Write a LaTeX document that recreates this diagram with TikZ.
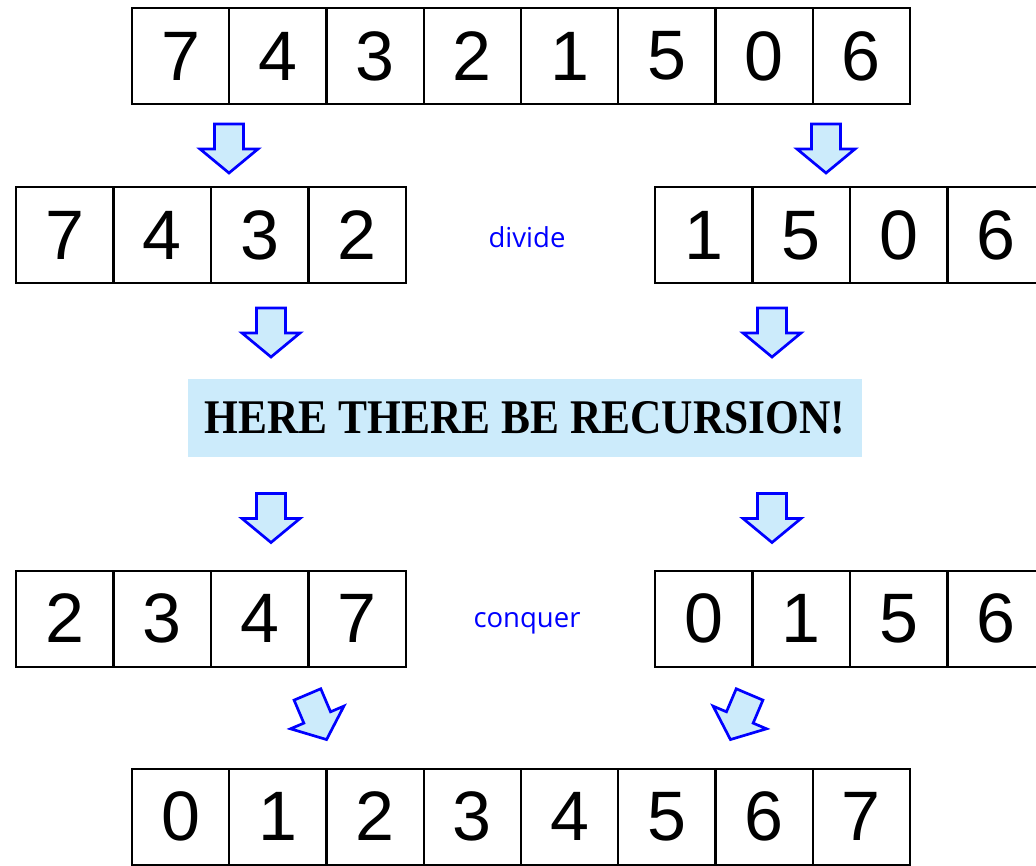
\documentclass[tikz,border=0pt]{standalone}
\usepackage{fontspec}
\usepackage{graphicx}
\setmainfont{Liberation Sans}
\newfontfamily\lblfont{Open Sans}
\newfontfamily\banfont{Liberation Serif}
\definecolor{arrowfill}{HTML}{CCEBFB}
\definecolor{bannerbg}{HTML}{CCEBFB}
\definecolor{lblblue}{HTML}{0000FF}
\tikzset{
  cell/.style={draw=black, line width=2pt, minimum width=97.4pt, minimum height=96pt,
    inner sep=0pt, outer sep=0pt, font=\fontsize{70}{70}\selectfont},
  lbl/.style={text=lblblue, font=\lblfont\fontsize{27.5}{27.5}\selectfont, inner sep=0pt},
  fatarrow/.style={draw=blue, fill=arrowfill, line width=2.7pt, line join=miter},
  pics/downarrow/.style={code={
    \path[fatarrow] (-14.5,-24.5) -- (14.5,-24.5) -- (14.5,0.5) -- (29,0.5) -- (0,24.5)
      -- (-29,0.5) -- (-14.5,0.5) -- cycle;
  }}
}
\begin{document}
\begin{tikzpicture}[x=1pt, y=-1pt]
\useasboundingbox (0,0) rectangle (1036,866);
% top row
\foreach \v [count=\i from 0] in {7,4,3,2,1,5,0,6}
  \node[cell] (top\i) at ({132+97.25*(\i+0.5)},56) {\v};
% divide rows
\foreach \v [count=\i from 0] in {7,4,3,2}
  \node[cell] (dl\i) at ({16+97.5*(\i+0.5)},235.5) {\v};
\foreach \v [count=\i from 0] in {1,5,0,6}
  \node[cell] (dr\i) at ({655+97.5*(\i+0.5)},235.5) {\v};
\node[lbl] (divide) at (527,237) {divide};
% banner
\node[fill=bannerbg, minimum width=674pt, minimum height=78pt, inner sep=0pt] (banner) at (525,418)
  {\resizebox{640pt}{32pt}{\banfont\bfseries HERE THERE BE RECURSION!}};
% conquer rows
\foreach \v [count=\i from 0] in {2,3,4,7}
  \node[cell] (cl\i) at ({16+97.5*(\i+0.5)},618.5) {\v};
\foreach \v [count=\i from 0] in {0,1,5,6}
  \node[cell] (cr\i) at ({655+97.5*(\i+0.5)},618.5) {\v};
\node[lbl] (conquer) at (527,623) {conquer};
% bottom row
\foreach \v [count=\i from 0] in {0,1,2,3,4,5,6,7}
  \node[cell] (bot\i) at ({132+97.25*(\i+0.5)},816.5) {\v};
% arrows
\pic at (229,148.5) {downarrow};
\pic at (826,148.5) {downarrow};
\pic at (271,332.5) {downarrow};
\pic at (772,332.5) {downarrow};
\pic at (271,518) {downarrow};
\pic at (772,518) {downarrow};
\pic[rotate=23] at (317,717) {downarrow};
\pic[rotate=-23] at (740,717) {downarrow};
\end{tikzpicture}
\end{document}
